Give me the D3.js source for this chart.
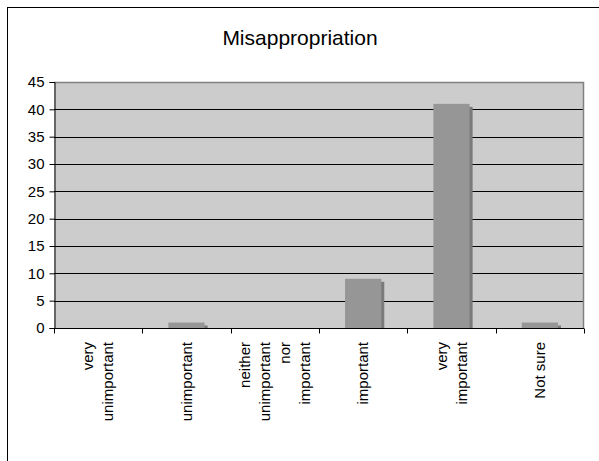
<!DOCTYPE html>
<html>
<head>
<meta charset="utf-8">
<script src="https://cdn.jsdelivr.net/npm/d3@7"></script>
<style>
  html, body { margin: 0; padding: 0; background: #fff; }
  svg { display: block; font-family: "Liberation Sans", Arial, sans-serif; }
</style>
</head>
<body>
<svg id="chart" width="599" height="461"></svg>
<script>
// Survey responses: how important is misappropriation?
const categories = [
  ["very", "unimportant"],
  ["unimportant"],
  ["neither", "unimportant", "nor", "important"],
  ["important"],
  ["very", "important"],
  ["Not sure"]
];
const counts = [0, 1, 0, 9, 41, 1];
const yTicks = [0, 5, 10, 15, 20, 25, 30, 35, 40, 45];
const title = "Misappropriation";

const svg = d3.select("#chart");
const W = 599, H = 461;
const plot = { left: 54, top: 82, right: 584, bottom: 328 };

// Outer chart frame (extends past the right/bottom edges)
svg.append("rect")
  .attr("x", 7.5).attr("y", 7.5)
  .attr("width", W + 20).attr("height", H + 20)
  .attr("fill", "#fff").attr("stroke", "#000").attr("stroke-width", 1);

svg.append("text")
  .attr("x", 300).attr("y", 45)
  .attr("text-anchor", "middle")
  .attr("font-size", 21)
  .attr("fill", "#000")
  .text(title);

const idx = d3.range(categories.length);
const x = d3.scaleBand().domain(idx).range([plot.left, plot.right]).paddingInner(0).paddingOuter(0);
const y = d3.scaleLinear().domain([0, 45]).range([plot.bottom, plot.top]);

// Plot background
svg.append("rect")
  .attr("x", plot.left).attr("y", plot.top)
  .attr("width", plot.right - plot.left).attr("height", plot.bottom - plot.top)
  .attr("fill", "#cccccc");

// Gridlines
svg.append("g").selectAll("line")
  .data(yTicks.filter(t => t > 0 && t < 45))
  .join("line")
  .attr("x1", plot.left).attr("x2", plot.right)
  .attr("y1", d => Math.round(y(d)) + 0.5).attr("y2", d => Math.round(y(d)) + 0.5)
  .attr("stroke", "#000").attr("stroke-width", 1);

// Plot border (top and right in grey)
svg.append("path")
  .attr("d", `M${plot.left},${plot.top + 0.5}H${plot.right - 0.5}V${plot.bottom}`)
  .attr("fill", "none").attr("stroke", "#808080").attr("stroke-width", 1.5);

// Bars with offset shadows
const bw = x.bandwidth() * 0.41;
const bx = i => x(i) + (x.bandwidth() - bw) / 2;
const bars = svg.append("g");
bars.selectAll("rect.shadow")
  .data(idx.filter(i => counts[i] > 0))
  .join("rect").attr("class", "shadow")
  .attr("x", i => bx(i) + 3)
  .attr("y", i => y(counts[i]) + 3)
  .attr("width", bw)
  .attr("height", i => y(0) - y(counts[i]) - 3)
  .attr("fill", "#7a7a7a");
bars.selectAll("rect.bar")
  .data(idx.filter(i => counts[i] > 0))
  .join("rect").attr("class", "bar")
  .attr("x", i => bx(i))
  .attr("y", i => y(counts[i]))
  .attr("width", bw)
  .attr("height", i => y(0) - y(counts[i]))
  .attr("fill", "#969696");

// Y axis
const yAxis = svg.append("g")
  .attr("transform", `translate(${plot.left + 0.5},0)`)
  .call(d3.axisLeft(y).tickValues(yTicks).tickSize(5).tickPadding(5).tickFormat(d3.format("d")));
yAxis.select(".domain").attr("stroke", "#000");
yAxis.selectAll(".tick line").attr("stroke", "#000");
yAxis.selectAll(".tick text")
  .attr("font-size", 15).attr("font-family", "Liberation Sans, Arial, sans-serif").attr("fill", "#000");

// X axis: ticks at category boundaries
const xAxisG = svg.append("g").attr("transform", `translate(0,${plot.bottom + 0.5})`);
xAxisG.append("line")
  .attr("x1", plot.left).attr("x2", plot.right)
  .attr("stroke", "#000");
xAxisG.selectAll("line.tick")
  .data(idx.concat([categories.length]))
  .join("line").attr("class", "tick")
  .attr("x1", i => Math.round(i < categories.length ? x(i) : plot.right) + 0.5)
  .attr("x2", i => Math.round(i < categories.length ? x(i) : plot.right) + 0.5)
  .attr("y1", 0).attr("y2", 5)
  .attr("stroke", "#000");

// Rotated multi-line category labels
const lineGap = 20;
const labelTop = 342;
xAxisG.selectAll("g.lbl")
  .data(idx)
  .join("g").attr("class", "lbl")
  .each(function (i) {
    const lines = categories[i];
    const cx = x(i) + x.bandwidth() / 2;
    lines.forEach((t, k) => {
      const lx = cx + (k - (lines.length - 1) / 2) * lineGap;
      svg.append("text")
        .attr("transform", `translate(${lx},${labelTop}) rotate(-90)`)
        .attr("text-anchor", "end")
        .attr("dy", "0.35em")
        .attr("font-size", 15)
        .attr("fill", "#000")
        .text(t);
    });
  });
</script>
</body>
</html>
